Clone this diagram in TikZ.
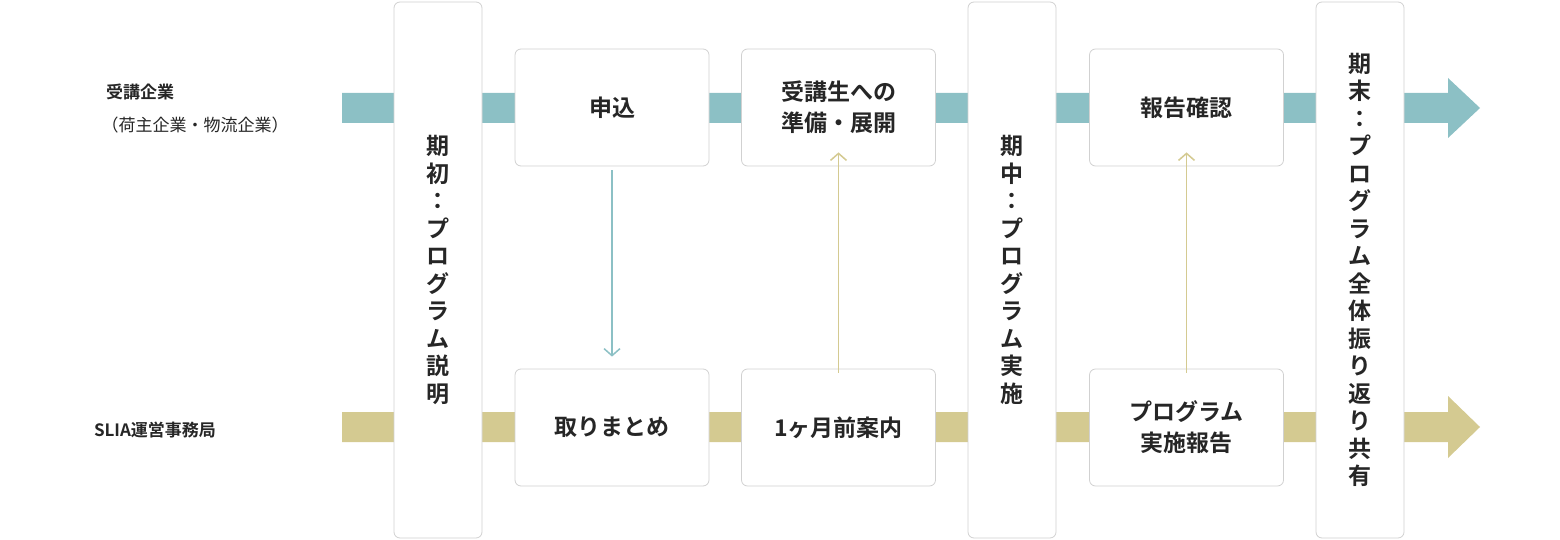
\documentclass[tikz,border=0pt]{standalone}
\usepackage{fontspec}
\usetikzlibrary{arrows.meta}
\setmainfont{Noto Sans CJK JP}[BoldFont=* Bold]
\begin{document}
\begin{tikzpicture}[x=1pt,y=-1pt,
  box/.style={draw=black!18,line width=0.8pt,rounded corners=6pt,fill=white,font=\bfseries\fontsize{23}{31}\selectfont,align=center,text=black!85},
  lab/.style={font=\bfseries\fontsize{17}{21}\selectfont,text=black!85},
  vt/.style={font=\bfseries\fontsize{23}{27.5}\selectfont,align=center,text=black!85}]
\definecolor{teal1}{HTML}{8CC0C5}
\definecolor{khaki}{HTML}{D4CA91}
\useasboundingbox (0,0) rectangle (1560,540);
\fill[teal1] (342,93) -- (1448,93) -- (1448,78) -- (1480,108) -- (1448,138) -- (1448,123) -- (342,123) -- cycle;
\fill[khaki] (342,412) -- (1448,412) -- (1448,396) -- (1480,427) -- (1448,458) -- (1448,442) -- (342,442) -- cycle;
\node[lab] (l1) at (140,92) {受講企業};
\node[lab,font=\fontsize{17}{21}\selectfont] (l2) at (195,125) {（荷主企業・物流企業）};
\node[lab] (l3) at (155,430) {SLIA運営事務局};
\foreach \n/\x in {t1/438,t2/1012,t3/1360}
  \node[box,minimum width=88pt,minimum height=536pt] (\n) at (\x,270) {};
\node[vt] at (t1) {期\\初\\：\\プ\\ロ\\グ\\ラ\\ム\\説\\明};
\node[vt] at (t2) {期\\中\\：\\プ\\ロ\\グ\\ラ\\ム\\実\\施};
\node[vt] at (t3) {期\\末\\：\\プ\\ロ\\グ\\ラ\\ム\\全\\体\\振\\り\\返\\り\\共\\有};
\tikzset{sb/.style={box,minimum width=194pt,minimum height=117pt}}
\node[sb] (a1) at (612,107.5) {申込};
\node[sb] (a2) at (838.5,107.5) {受講生への\\準備・展開};
\node[sb] (a3) at (1186.5,107.5) {報告確認};
\node[sb] (b1) at (612,427.5) {取りまとめ};
\node[sb] (b2) at (838.5,427.5) {1ヶ月前案内};
\node[sb] (b3) at (1186.5,427.5) {プログラム\\実施報告};
\tikzset{ar/.style={line width=1.5pt,-{Straight Barb[length=7pt,width=16pt]}}}
\draw[ar,teal1] ([yshift=-4pt]a1.south) -- ([yshift=12pt]b1.north);
\draw[ar,khaki] ([yshift=-4pt]b2.north) -- ([yshift=14pt]a2.south);
\draw[ar,khaki] ([yshift=-4pt]b3.north) -- ([yshift=14pt]a3.south);
\end{tikzpicture}
\end{document}
